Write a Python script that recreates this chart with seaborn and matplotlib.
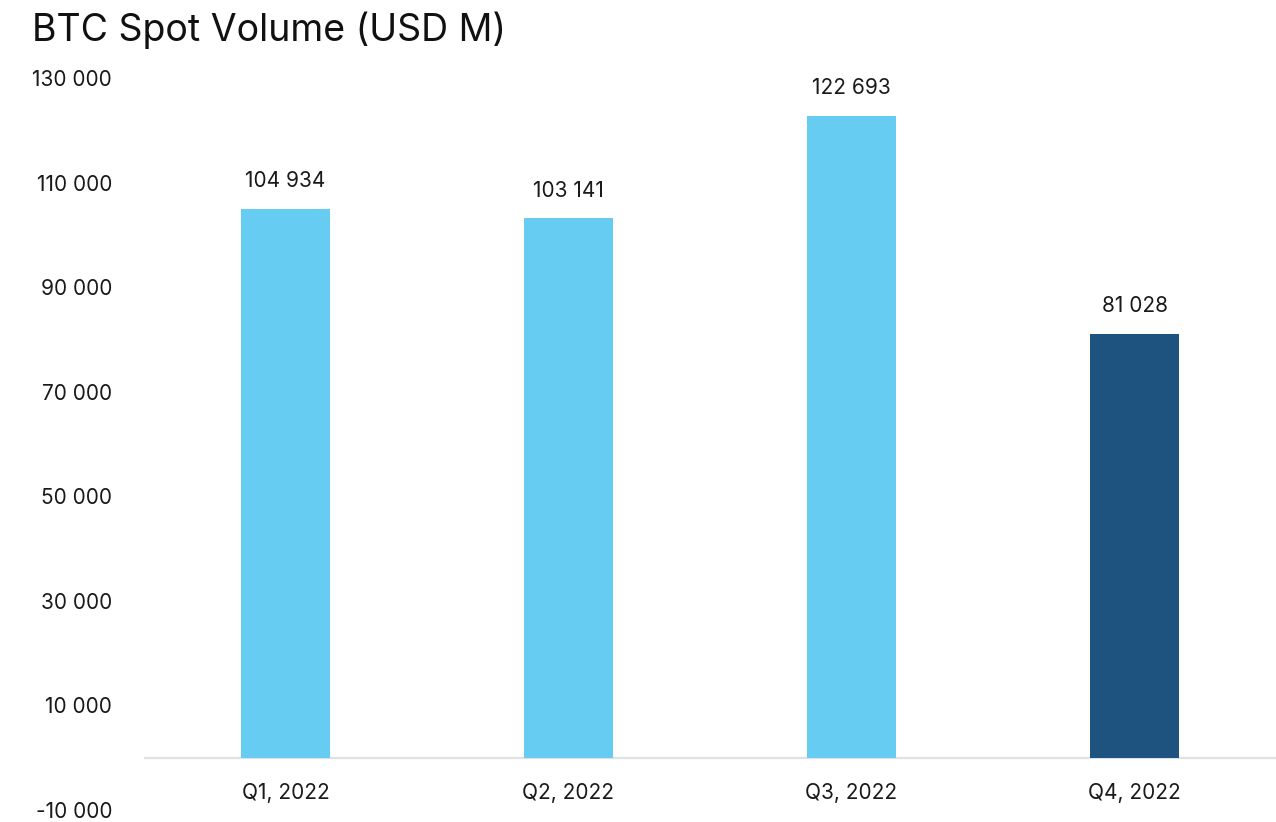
import matplotlib
matplotlib.use("Agg")
import matplotlib.pyplot as plt
import matplotlib.ticker as mticker
import seaborn as sns

# BTC spot volume per quarter (USD M)
quarters = ['Q1, 2022', 'Q2, 2022', 'Q3, 2022', 'Q4, 2022']
volumes = [104934, 103141, 122693, 81028]
bar_colors = ['#66CCF2', '#66CCF2', '#66CCF2', '#1F537F']
y_ticks = [-10000, 10000, 30000, 50000, 70000, 90000, 110000, 130000]

sns.set_theme(style="white")
plt.rcParams['font.family'] = ['Inter', 'DejaVu Sans']


def space_fmt(v, pos=None):
    return f'{int(round(v)):,}'.replace(',', ' ')


fig = plt.figure(figsize=(12.76, 8.22), dpi=100)
# axes placed in pixel terms: left 144, right 1276, top 78, bottom 810
ax = fig.add_axes([144 / 1276, 12 / 822, 1132 / 1276, 732 / 822])

sns.barplot(x=quarters, y=volumes, hue=quarters, palette=bar_colors,
            width=0.315, legend=False, saturation=1, linewidth=0, ax=ax)

ax.set_xlim(-0.5, 3.5)
ax.set_ylim(-10000, 130000)
ax.set_yticks(y_ticks)
ax.yaxis.set_major_formatter(mticker.FuncFormatter(space_fmt))
ax.tick_params(axis='y', length=0, pad=23, labelsize=15, labelcolor='#1a1a1a')
ax.tick_params(axis='x', length=0, labelbottom=False)
ax.set_xlabel('')
ax.set_ylabel('')
for side in ['top', 'right', 'left', 'bottom']:
    ax.spines[side].set_visible(False)

# zero baseline
ax.axhline(0, color='#DCE2E6', lw=1.6, zorder=0)

# category labels just under the baseline
for i, q in enumerate(quarters):
    ax.annotate(q, (i, 0), xytext=(0, -25.5), textcoords='offset points',
                ha='center', va='center', fontsize=15, color='#1a1a1a')

# value labels above bars
for i, v in enumerate(volumes):
    ax.annotate(space_fmt(v), (i, v), xytext=(0, 20), textcoords='offset points',
                ha='center', va='center', fontsize=15, color='#1a1a1a')

fig.text(32 / 1276, 1 - 30 / 822, 'BTC Spot Volume (USD M)', fontsize=27,
         ha='left', va='center', color='#111111')

fig.savefig('out.png', dpi=100)
